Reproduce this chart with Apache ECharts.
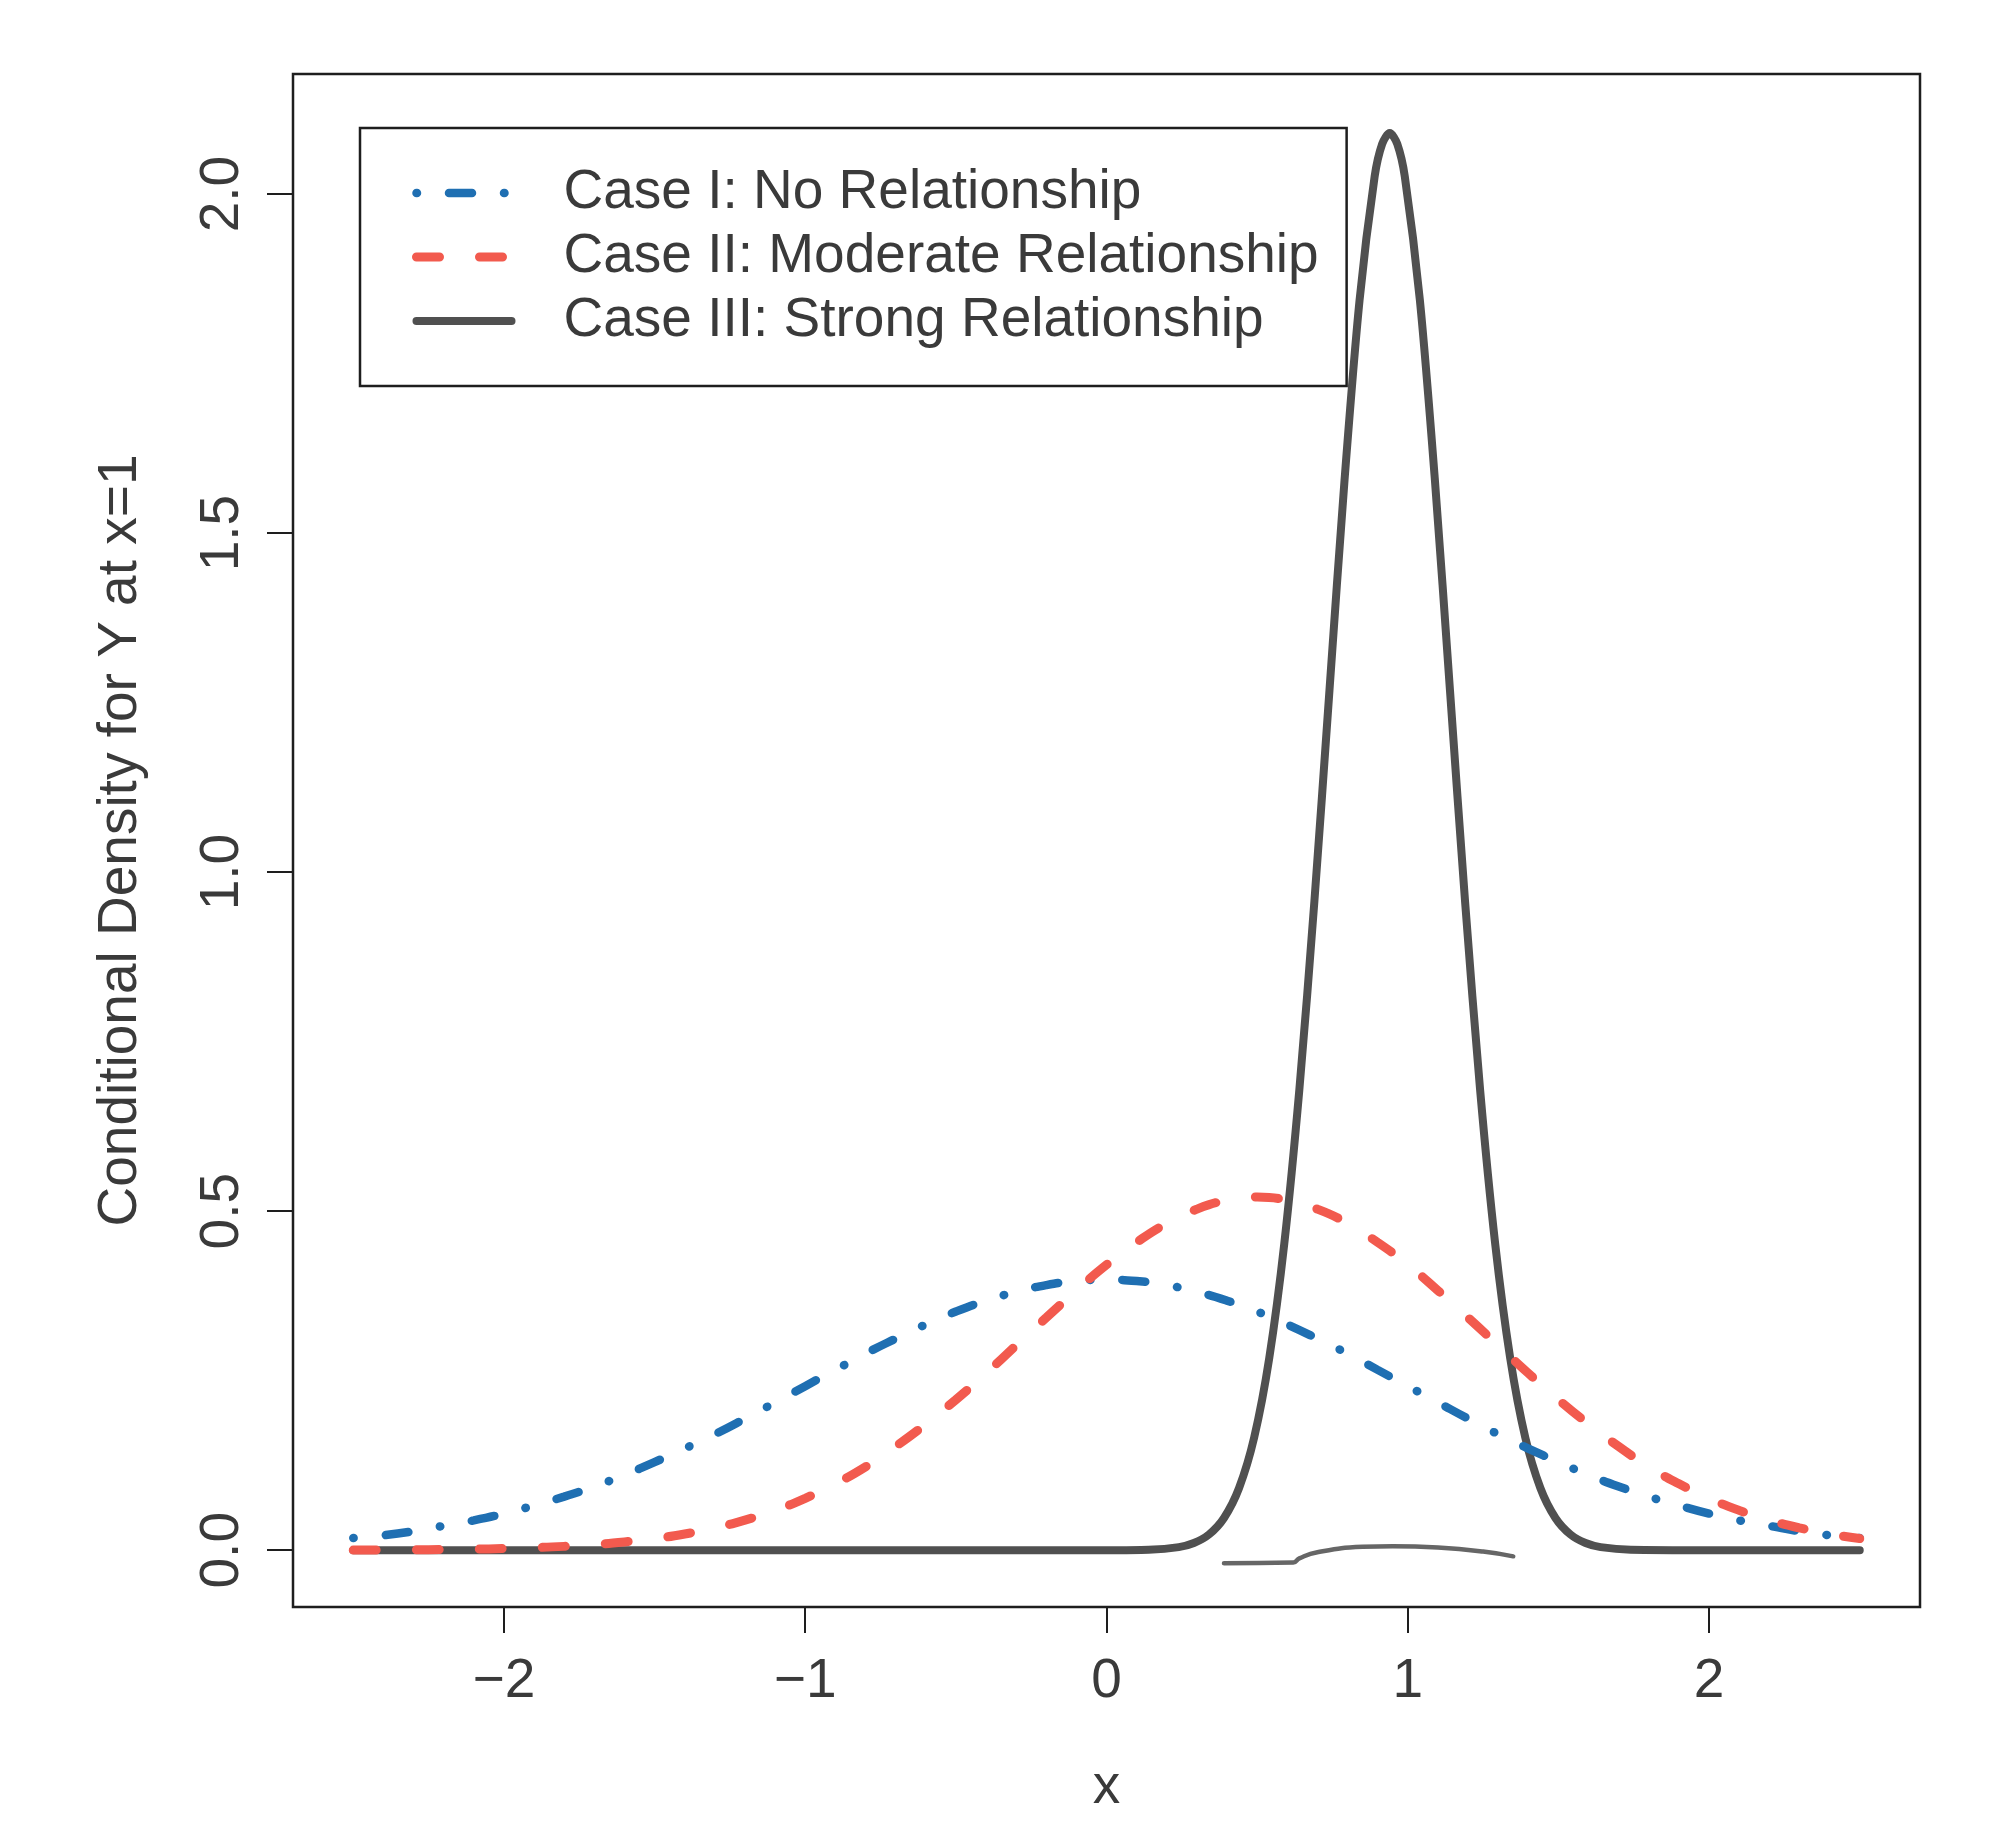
<!DOCTYPE html>
<html>
<head>
<meta charset="utf-8">
<title>Conditional Density for Y at x=1</title>
<script src="https://cdn.jsdelivr.net/npm/echarts@6/dist/echarts.min.js"></script>
<style>
	html, body { margin: 0; padding: 0; background: #fff; }
	#main { width: 2000px; height: 1833px; }
</style>
</head>
<body>
<div id="main"></div>
<script>
// x grid shared by Case I and Case II
var xGrid = [-2.5, -2.4, -2.3, -2.2, -2.1, -2.0, -1.9, -1.8, -1.7, -1.6, -1.5, -1.4, -1.3, -1.2, -1.1, -1.0, -0.9, -0.8, -0.7, -0.6, -0.5, -0.4, -0.3, -0.2, -0.1, 0.0,
	0.1, 0.2, 0.3, 0.4, 0.5, 0.6, 0.7, 0.8, 0.9, 1.0, 1.1, 1.2, 1.3, 1.4, 1.5, 1.6, 1.7, 1.8, 1.9, 2.0, 2.1, 2.2, 2.3, 2.4, 2.5];

// Case I: No Relationship (blue, dot-dash)
var caseI = [0.018, 0.022, 0.028, 0.036, 0.044, 0.054, 0.066, 0.079, 0.094, 0.111, 0.130, 0.150, 0.171, 0.194, 0.218, 0.242, 0.266, 0.290, 0.312, 0.333, 0.352, 0.368, 0.381, 0.391, 0.397, 0.399,
	0.397, 0.391, 0.381, 0.368, 0.352, 0.333, 0.312, 0.290, 0.266, 0.242, 0.218, 0.194, 0.171, 0.150, 0.130, 0.111, 0.094, 0.079, 0.066, 0.054, 0.044, 0.036, 0.028, 0.022, 0.018];

// Case II: Moderate Relationship (red, dashed)
var caseII = [0.0002, 0.0004, 0.0006, 0.0010, 0.0016, 0.0025, 0.0038, 0.0057, 0.0084, 0.0122, 0.0172, 0.0240, 0.0329, 0.0444, 0.0588, 0.0766, 0.098, 0.123, 0.153, 0.186, 0.222, 0.261, 0.302, 0.343, 0.383, 0.421,
	0.454, 0.482, 0.503, 0.516, 0.521, 0.516, 0.503, 0.482, 0.454, 0.421, 0.383, 0.343, 0.302, 0.261, 0.222, 0.186, 0.153, 0.123, 0.098, 0.0766, 0.0588, 0.0444, 0.0329, 0.0240, 0.0172];

// Case III: Strong Relationship (dark grey, solid) - denser around the peak
var caseIIIx = [-2.5, -2.0, -1.5, -1.0, -0.5, 0.0, 0.14, 0.24, 0.29, 0.34, 0.39, 0.44, 0.49, 0.54, 0.59, 0.64, 0.69, 0.74, 0.79, 0.84, 0.89, 0.915, 0.94, 0.965, 0.99,
	1.04, 1.09, 1.14, 1.19, 1.24, 1.29, 1.34, 1.39, 1.44, 1.49, 1.54, 1.59, 1.64, 1.74, 2.0, 2.5];
var caseIII = [0, 0, 0, 0, 0, 0, 0.0007, 0.0046, 0.0106, 0.0232, 0.0476, 0.0918, 0.166, 0.283, 0.452, 0.679, 0.957, 1.268, 1.578, 1.844, 2.026, 2.074, 2.090, 2.074, 2.026,
	1.844, 1.578, 1.268, 0.957, 0.679, 0.452, 0.283, 0.166, 0.0918, 0.0476, 0.0232, 0.0106, 0.0046, 0.0007, 0, 0];

// faint pencil stroke under the peak in the scan
var strokeX = [0.39, 0.62, 0.64, 0.7, 0.85, 0.95, 1.1, 1.25, 1.35];
var strokeY = [-0.019, -0.018, -0.012, -0.003, 0.005, 0.006, 0.004, -0.002, -0.009];

var xTicks = [-2, -1, 0, 1, 2];
var yTicks = [0, 0.5, 1, 1.5, 2];

var seriesNames = ['Case I: No Relationship', 'Case II: Moderate Relationship', 'Case III: Strong Relationship'];

var font = '"Liberation Sans", Arial, Helvetica, sans-serif';
var textColor = '#3a3a3a';
var frameColor = '#1e1e1e';

function pairs(xs, ys) {
	var out = [];
	for (var i = 0; i < xs.length; i++) {
		out.push([xs[i], ys[i]]);
	}
	return out;
}

var chart = echarts.init(document.getElementById('main'), null, { renderer: 'canvas' });

var option = {
	animation: false,
	backgroundColor: '#ffffff',
	grid: {
		left: 293,
		top: 74,
		right: 80,
		bottom: 226,
		show: true,
		borderColor: frameColor,
		borderWidth: 2.5,
		backgroundColor: 'transparent'
	},
	legend: {
		orient: 'vertical',
		left: 360,
		top: 128,
		padding: [33, 28, 33, 52],
		itemGap: 0,
		itemWidth: 95,
		itemHeight: 2,
		borderColor: frameColor,
		borderWidth: 2.5,
		data: seriesNames,
		lineStyle: { width: 'inherit' },
		itemStyle: { opacity: 0 }, // hide the circle the line legend puts in the middle
		textStyle: {
			fontFamily: font,
			fontSize: 55,
			color: textColor,
			lineHeight: 64,
			padding: [0, 0, 0, 47]
		}
	},
	xAxis: {
		type: 'value',
		min: -2.7,
		max: 2.7,
		name: 'x',
		nameLocation: 'middle',
		nameGap: 153,
		nameTextStyle: { fontFamily: font, fontSize: 55, color: textColor },
		axisLine: { show: false, onZero: false },
		splitLine: { show: false },
		axisTick: {
			show: true,
			length: 26,
			customValues: xTicks,
			lineStyle: { color: frameColor, width: 2 }
		},
		axisLabel: {
			customValues: xTicks,
			margin: 47,
			fontFamily: font,
			fontSize: 55,
			color: textColor,
			formatter: function (v) {
				return v < 0 ? '\u2212' + Math.abs(v) : String(v);
			}
		}
	},
	yAxis: {
		type: 'value',
		min: -0.0837,
		max: 2.177,
		name: 'Conditional Density for Y at x=1',
		nameLocation: 'middle',
		nameGap: 145,
		nameTextStyle: { fontFamily: font, fontSize: 55, color: textColor },
		axisLine: { show: false, onZero: false },
		splitLine: { show: false },
		axisTick: {
			show: true,
			length: 26,
			customValues: yTicks,
			lineStyle: { color: frameColor, width: 2 }
		},
		axisLabel: {
			customValues: yTicks,
			rotate: 90,
			margin: 43,
			fontFamily: font,
			fontSize: 55,
			color: textColor,
			formatter: function (v) {
				return v.toFixed(1);
			}
		}
	},
	series: [{
		name: seriesNames[0],
		type: 'line',
		data: pairs(xGrid, caseI),
		symbol: 'none',
		smooth: true,
		z: 3,
		lineStyle: { color: '#1f6fb2', width: 8.5, type: [0.5, 32, 23, 32], cap: 'round' },
		itemStyle: { color: '#1f6fb2' }
	}, {
		name: seriesNames[1],
		type: 'line',
		data: pairs(xGrid, caseII),
		symbol: 'none',
		smooth: true,
		z: 4,
		lineStyle: { color: '#f25a4e', width: 9, type: [23, 40], cap: 'round' },
		itemStyle: { color: '#f25a4e' }
	}, {
		name: seriesNames[2],
		type: 'line',
		data: pairs(caseIIIx, caseIII),
		symbol: 'none',
		smooth: 0.3,
		z: 2,
		lineStyle: { color: '#505050', width: 8, cap: 'round', join: 'round' },
		itemStyle: { color: '#505050' }
	}, {
		name: 'stroke',
		type: 'line',
		data: pairs(strokeX, strokeY),
		symbol: 'none',
		smooth: true,
		silent: true,
		z: 1,
		lineStyle: { color: '#666666', width: 4.5, cap: 'round' }
	}]
};

chart.setOption(option);
</script>
</body>
</html>
